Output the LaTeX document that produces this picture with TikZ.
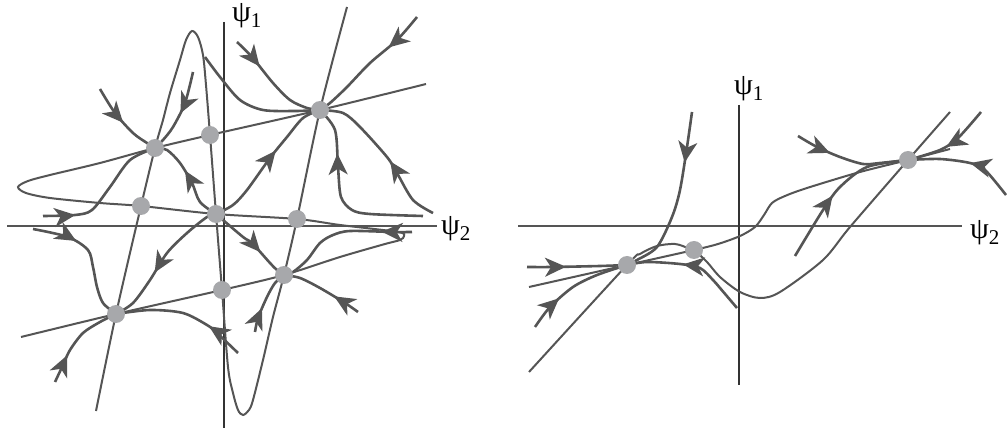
\documentclass[tikz,border=0pt]{standalone}
\usepackage{fontspec}
\setmainfont{Liberation Serif}
\usetikzlibrary{arrows.meta,decorations.markings}

\definecolor{curvegray}{HTML}{555555}
\definecolor{dotgray}{HTML}{A7A8AB}

\begin{document}
\begin{tikzpicture}[x=1pt,y=-1pt,
    haxis/.style={draw=curvegray,line width=1.8pt},
    vaxis/.style={draw=black!80,line width=1.1pt},
    nullcl/.style={draw=curvegray,line width=2pt},
    traj/.style={draw=curvegray,line width=2.6pt},
    flow/.style={postaction={decorate},decoration={markings,
        mark=at position #1 with {\arrow[curvegray]{Stealth[length=21pt,width=19pt,inset=6pt]}}}},
    eqpt/.style={circle,fill=dotgray,inner sep=0pt,minimum size=18pt},
    lbl/.style={font=\fontsize{30}{34}\selectfont,inner sep=0pt}]

    \useasboundingbox (0,0) rectangle (1007,430);

    % left portrait
    \coordinate (A) at (155,148);
    \coordinate (B) at (210,135);
    \coordinate (C) at (320,110);
    \coordinate (D) at (141,206);
    \coordinate (E) at (216,214);
    \coordinate (F) at (297,219);
    \coordinate (G) at (284,275);
    \coordinate (H) at (222,290);
    \coordinate (I) at (116,314);

    \draw[haxis] (7,226) -- (437,226);
    \draw[vaxis] (224,22) -- (224,428);
    \node[lbl,anchor=west] (psi2L) at (441,229) {ψ\textsubscript{2}};
    \node[lbl] (psi1L) at (247,16) {ψ\textsubscript{1}};

    \draw[nullcl] plot[smooth] coordinates {(21,337) (I) (H) (G) (340,257) (385,244)
        (400,240) (404,236) (398,232) (340,225) (F) (E) (D) (100,203) (50,198)
        (26,193) (18,187) (28,181) (50,175) (100,163) (A) (B) (C) (426,84)};
    \draw[nullcl] plot[smooth] coordinates {(96,411) (I) (D) (A) (163,120) (170,93)
        (180,60) (186,40) (192,31) (198,37) (203,55) (206,85) (B) (E) (H) (228,367)
        (233,393) (238,410) (243,415) (249,410) (253,400) (263,360) (273,317) (G)
        (F) (C) (347,7)};

    \draw[traj,flow=0.23] plot[smooth] coordinates {(43,216) (75,215) (92,210) (110,187) (130,160) (A)};
    \draw[traj,flow=0.5] plot[smooth] coordinates {(100,89) (115,113) (133,133) (147,143) (A)};
    \draw[traj,flow=0.5] plot[smooth] coordinates {(193,72) (185,103) (173,127) (163,140) (A)};
    \draw[traj,flow=0.58] plot[smooth] coordinates {(E) (200,202) (192,183) (180,163) (167,150) (A)};
    \draw[traj,flow=0.34] plot[smooth] coordinates {(33,229) (68,237) (88,250) (93,267) (97,287) (103,303) (I)};
    \draw[traj,flow=0.6] plot[smooth] coordinates {(E) (207,217) (187,233) (167,253) (150,280) (133,303) (I)};
    \draw[traj,flow=0.31] plot[smooth] coordinates {(55,382) (63,365) (70,350) (83,333) (100,322) (I)};
    \draw[traj,flow=0.29] plot[smooth] coordinates {(238,353) (217,333) (207,325) (183,313) (150,310) (I)};
    \draw[traj,flow=0.3] plot[smooth] coordinates {(237,42) (252,57) (273,83) (290,100) (307,108) (C)};
    \draw[traj] plot[smooth] coordinates {(205,57) (220,77) (240,100) (263,110) (295,111) (C)};
    \draw[traj,flow=0.31] plot[smooth] coordinates {(417,17) (397,40) (370,63) (347,87) (330,103) (C)};
    \draw[traj,flow=0.59] plot[smooth] coordinates {(E) (233,205) (247,190) (270,158) (287,137) (303,118) (C)};
    \draw[traj,flow=0.73] plot[smooth] coordinates {(423,216) (370,214) (352,210) (341,197) (338,167) (335,130) (C)};
    \draw[traj,flow=0.43] plot[smooth] coordinates {(433,213) (413,200) (397,173) (387,157) (360,127) (343,113) (C)};
    \draw[traj,flow=0.64] plot[smooth] coordinates {(E) (243,237) (252,243) (270,263) (277,270) (G)};
    \draw[traj,flow=0.34] plot[smooth] coordinates {(358,312) (345,303) (320,288) (300,278) (G)};
    \draw[traj,flow=0.38] plot[smooth] coordinates {(255,332) (258,318) (267,297) (275,283) (G)};
    \draw[traj,flow=0.21] plot[smooth] coordinates {(412,232) (393,232) (350,231) (333,235) (320,243) (307,260) (293,272) (G)};

    % right portrait
    \coordinate (P) at (627,265);
    \coordinate (Q) at (694,250);
    \coordinate (R) at (908,160);

    \draw[haxis] (518,226) -- (962,226);
    \draw[vaxis] (739,105) -- (739,385);
    \node[lbl,anchor=west] (psi2R) at (970,233) {ψ\textsubscript{2}};
    \node[lbl] (psi1R) at (749,89) {ψ\textsubscript{1}};

    \draw[nullcl] plot[smooth] coordinates {(529,287) (P) (Q) (718,244) (740,236)
        (755,227) (764,215) (772,203) (785,196) (807,188) (860,172) (R) (950,149)};
    \draw[nullcl] plot[smooth] coordinates {(529,372) (P) (640,254) (657,246) (675,244)
        (688,248) (Q) (707,262) (720,277) (740,292) (760,298) (780,292) (823,260)
        (850,227) (R) (950,112)};

    \draw[traj,flow=0.29] plot[smooth] coordinates {(692,112) (687,147) (680,190) (672,217) (657,247) (637,260) (P)};
    \draw[traj,flow=0.39] plot[smooth] coordinates {(527,267) (553,267) (600,266) (P)};
    \draw[traj,flow=0.33] plot[smooth] coordinates {(535,327) (550,307) (573,287) (597,275) (P)};
    \draw[traj,flow=0.56] plot[smooth] coordinates {(737,308) (720,288) (713,280) (700,268) (680,264) (647,262) (P)};
    \draw[traj,flow=0.31] plot[smooth] coordinates {(798,136) (817,147) (840,157) (863,164) (880,163) (R)};
    \draw[traj,flow=0.55] plot[smooth] coordinates {(981,112) (958,138) (940,150) (R)};
    \draw[traj,flow=0.44] plot[smooth] coordinates {(1006,195) (985,170) (970,163) (940,159) (R)};
    \draw[traj,flow=0.45] plot[smooth] coordinates {(795,256) (823,210) (840,187) (867,167) (R)};

    \foreach \p in {A,B,C,D,E,F,G,H,I,P,Q,R}
        \node[eqpt] (dot\p) at (\p) {};
\end{tikzpicture}
\end{document}
